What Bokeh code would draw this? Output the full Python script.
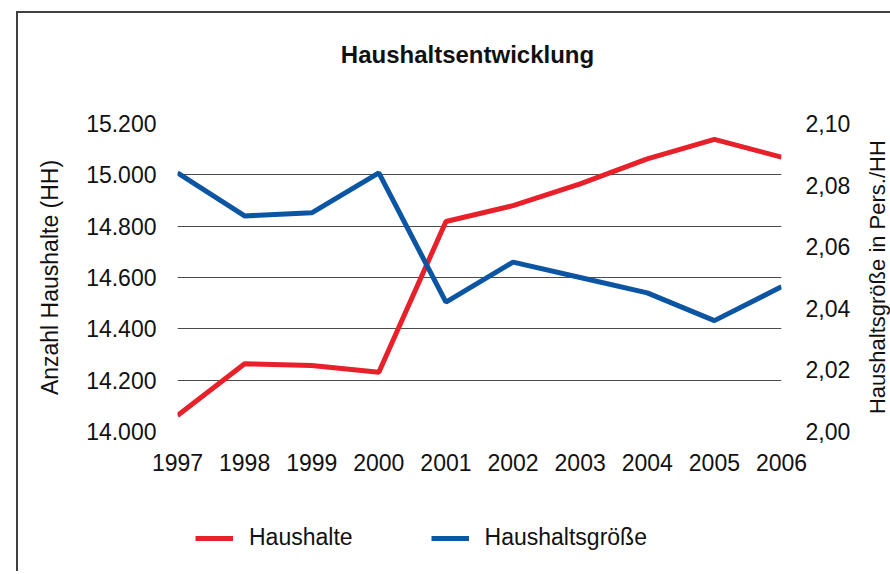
import math
from bokeh.plotting import figure
from bokeh.layouts import column, row
from bokeh.models import (LinearAxis, Range1d, FixedTicker, CustomJSTickFormatter,
                          Legend, LegendItem, Label)
from bokeh.embed import file_html
from bokeh.resources import INLINE

# ---- data ----
years = [1997, 1998, 1999, 2000, 2001, 2002, 2003, 2004, 2005, 2006]
haushalte = [14062, 14264, 14257, 14231, 14818, 14880, 14965, 15062, 15138, 15069]
groesse = [2.084, 2.070, 2.071, 2.084, 2.042, 2.055, 2.050, 2.045, 2.036, 2.047]
left_ticks = [14000, 14200, 14400, 14600, 14800, 15000, 15200]
right_ticks = [2.00, 2.02, 2.04, 2.06, 2.08, 2.10]
title_text = "Haushaltsentwicklung"
left_label = "Anzahl Haushalte (HH)"
right_label = "Haushaltsgröße in Pers./HH"
series_names = ["Haushalte", "Haushaltsgröße"]

RED = "#e8202a"
BLUE = "#0b55a3"
FONT = "Liberation Sans"
FS = "23px"
TXT = "#111111"


def blank(w, h):
    f = figure(width=w, height=h, output_backend="svg", toolbar_location=None,
               x_range=Range1d(0, w), y_range=Range1d(0, h),
               x_axis_type=None, y_axis_type=None, min_border=0)
    f.grid.visible = False
    f.outline_line_color = None
    f.background_fill_color = "white"
    f.border_fill_color = "white"
    return f


# ---- title strip ----
tp = blank(872, 90)
tp.add_layout(Label(x=449, y=49, text=title_text, text_font=FONT,
                    text_font_size="24px", text_font_style="bold", text_color=TXT,
                    text_align="center", text_baseline="middle"))

# ---- main chart ----
p = figure(width=844, height=377, output_backend="svg", toolbar_location=None,
           x_range=Range1d(years[0], years[-1]),
           y_range=Range1d(left_ticks[0], left_ticks[-1]),
           min_border_left=159, min_border_right=81,
           min_border_top=20, min_border_bottom=49)
p.outline_line_color = None
p.background_fill_color = "white"
p.border_fill_color = "white"
p.extra_y_ranges = {"right": Range1d(right_ticks[0], right_ticks[-1])}

r1 = p.line(years, haushalte, line_color=RED, line_width=5)
r2 = p.line(years, groesse, line_color=BLUE, line_width=5, y_range_name="right")

xa = p.xaxis[0]
xa.ticker = FixedTicker(ticks=years)
xa.axis_line_color = None
xa.major_tick_line_color = None
xa.minor_tick_line_color = None
xa.major_label_standoff = 16
xa.major_label_text_font = FONT
xa.major_label_text_font_size = FS
xa.major_label_text_color = TXT

ya = p.yaxis[0]
ya.ticker = FixedTicker(ticks=left_ticks)
ya.formatter = CustomJSTickFormatter(code="""
  const s = Math.round(tick).toString();
  return s.replace(/\\B(?=(\\d{3})+(?!\\d))/g, '.');
""")
ya.axis_line_color = None
ya.major_tick_line_color = None
ya.minor_tick_line_color = None
ya.major_label_standoff = 15
ya.major_label_text_font = FONT
ya.major_label_text_font_size = FS
ya.major_label_text_color = TXT
ya.axis_label = left_label
ya.axis_label_text_font = FONT
ya.axis_label_text_font_size = FS
ya.axis_label_text_font_style = "normal"
ya.axis_label_text_color = TXT
ya.axis_label_standoff = 20

ra = LinearAxis(y_range_name="right")
ra.ticker = FixedTicker(ticks=right_ticks)
ra.formatter = CustomJSTickFormatter(code="return tick.toFixed(2).replace('.', ',');")
ra.axis_line_color = None
ra.major_tick_line_color = None
ra.minor_tick_line_color = None
ra.major_label_standoff = 18
ra.major_label_text_font = FONT
ra.major_label_text_font_size = FS
ra.major_label_text_color = TXT
p.add_layout(ra, "right")

p.xgrid.grid_line_color = None
p.ygrid.ticker = FixedTicker(ticks=left_ticks)
p.ygrid.grid_line_color = "#4a4a4a"
p.ygrid.grid_line_width = 1

# ---- right axis title strip ----
rl = blank(28, 377)
rl.add_layout(Label(x=14.5, y=189, text=right_label, angle=math.pi / 2,
                    text_font=FONT, text_font_size="22px", text_color=TXT,
                    text_align="center", text_baseline="middle"))

# ---- legend strip ----
lp = blank(872, 91)
l1 = lp.line(years, haushalte, line_color=RED, line_width=5)
l2 = lp.line(years, groesse, line_color=BLUE, line_width=5)
legend = Legend(items=[LegendItem(label=series_names[0], renderers=[l1]),
                       LegendItem(label=series_names[1], renderers=[l2])],
                location=(177, 20), orientation="horizontal",
                padding=0, margin=0, spacing=78,
                glyph_width=38, glyph_height=26, label_height=26,
                label_standoff=16,
                label_text_font=FONT, label_text_font_size=FS,
                label_text_color=TXT,
                border_line_color=None, background_fill_alpha=0)
lp.add_layout(legend, "center")

layout = column(tp, row(p, rl, spacing=0), lp, spacing=0)
layout.margin = (11, 0, 0, 16)
layout.styles = {"border-left": "2px solid #404040", "border-top": "2px solid #404040"}

open("out.html", "w").write(file_html(layout, INLINE))
